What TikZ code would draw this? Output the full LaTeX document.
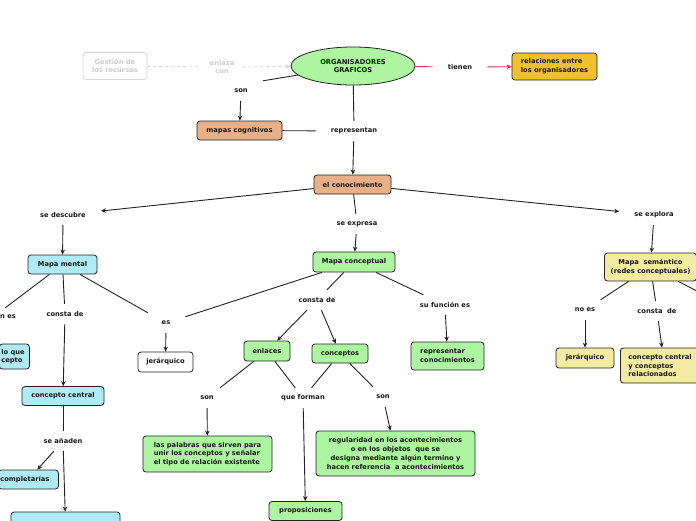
\documentclass[tikz,border=0pt]{standalone}
\usepackage{fontspec}
\setmainfont{DejaVu Sans}
\usetikzlibrary{shapes.geometric,arrows.meta}
\definecolor{cgreen}{HTML}{ADF5A0}
\definecolor{ccyan}{HTML}{B0EBF5}
\definecolor{cpeach}{HTML}{E8B088}
\definecolor{cyel}{HTML}{F3EBA0}
\definecolor{cgold}{HTML}{F0C030}
\definecolor{cred}{HTML}{E0245A}
\definecolor{cline}{HTML}{222222}
\definecolor{cfaint}{HTML}{D6D6D6}
\definecolor{cfainttext}{HTML}{CCCCCC}
\tikzset{
 every node/.style={font=\fontsize{6.7}{8.7}\selectfont\bfseries, text=black!90},
 box/.style={draw=cline, line width=0.8pt, rounded corners=3pt, inner sep=0pt},
 lbl/.style={inner xsep=15pt, inner ysep=0pt, minimum height=20pt},
 conn/.style={draw=cline, line width=0.9pt},
 arr/.style={conn, -{Stealth[length=5pt,width=4.5pt]}},
}
\begin{document}
\begin{tikzpicture}[x=1pt,y=-1pt]
\useasboundingbox (0,0) rectangle (696,520);
% top
\node[box, draw=cfaint, text=cfainttext, fill=white, minimum width=64pt, minimum height=27pt, align=center] (gest) at (115,66) {Gestión de\\los recursos};
\node[lbl, text=cfainttext, align=center, inner xsep=8pt] (enl) at (222,67) {enlaza\\con};
\node[ellipse, draw=cline, line width=0.8pt, fill=cgreen, minimum width=124pt, minimum height=38pt, inner sep=0pt, align=center] (org) at (353,66) {ORGANISADORES\\GRAFICOS};
\node[lbl] (tie) at (460,67) {tienen};
\node[box, fill=cgold, minimum width=85pt, minimum height=27pt, align=left] (rel) at (554.5,66.5) {relaciones entre\\los organisadores};
\node[lbl] (son1) at (241,91) {son};
\node[box, fill=cpeach, minimum width=85pt, minimum height=19pt] (mcog) at (239.5,130.5) {mapas cognitivos};
\node[lbl] (rep) at (354,131) {representan};
\node[box, fill=cpeach, minimum width=77pt, minimum height=19pt] (con) at (352.5,184.5) {el conocimiento};
\node[lbl] (sdes) at (63,215) {se descubre};
\node[lbl] (sexp) at (357,224) {se expresa};
\node[lbl] (sexpl) at (654,215) {se explora};
% left branch
\node[box, fill=ccyan, minimum width=69pt, minimum height=19pt] (mm) at (62.5,264.5) {Mapa mental};
\coordinate (cenes) at (5,308);
\node[anchor=east, inner sep=0pt] (enes) at (16,317) {n es};
\node[lbl] (cd1) at (65,314) {consta de};
\node[box, fill=ccyan, anchor=west, align=left, text width=26pt, inner xsep=2pt, minimum height=25pt] (lq) at (-1,356.5) {lo que\\cepto};
\node[lbl] (es1) at (166,323) {es};
\node[box, fill=white, minimum width=55pt, minimum height=20pt] (jer1) at (165.5,362) {jerárquico};
\node[box, fill=ccyan, minimum width=82pt, minimum height=19pt] (cc) at (63,396) {concepto central};
\node[lbl] (sea) at (63,441) {se añaden};
\node[box, fill=ccyan, anchor=west, align=left, text width=56pt, inner xsep=2pt, minimum height=19pt] (comp) at (-2,479.5) {completarías};
\node[box, fill=ccyan, minimum width=109pt, minimum height=20pt] (bot) at (65.5,522) {};
% middle branch
\node[box, fill=cgreen, minimum width=82pt, minimum height=20pt] (mc) at (354,262) {Mapa conceptual};
\node[lbl] (cd2) at (317,300) {consta de};
\node[lbl] (suf) at (445,305) {su función es};
\node[box, fill=cgreen, minimum width=73pt, minimum height=28pt, align=left] (repc) at (447.5,356) {representar\\conocimientos};
\node[box, fill=cgreen, minimum width=46pt, minimum height=20pt] (enl2) at (267,351) {enlaces};
\node[box, fill=cgreen, minimum width=56pt, minimum height=19pt] (conc) at (340,353.5) {conceptos};
\node[lbl] (son2) at (207,398) {son};
\node[lbl] (qf) at (303,398) {que forman};
\node[lbl] (son3) at (383,397) {son};
\node[box, fill=cgreen, minimum width=129pt, minimum height=36pt, align=left] (pal) at (207.5,454) {las palabras que sirven para\\unir los conceptos y señalar\\el tipo de relación existente};
\node[box, fill=cgreen, minimum width=159pt, minimum height=45pt, align=center] (reg) at (395.5,453.5) {regularidad en los acontecimientos\\o en los objetos~ que se\\designa mediante algún termino y\\hacen referencia~ a acontecimientos};
\node[box, fill=cgreen, minimum width=73pt, minimum height=19pt] (prop) at (305.5,511) {proposiciones};
% right branch
\node[box, fill=cyel, minimum width=92pt, minimum height=28pt, align=center] (ms) at (650.5,267) {Mapa~ semántico\\(redes conceptuales)};
\coordinate (coff) at (720,303);
\node[lbl] (noes) at (585,310) {no es};
\node[lbl] (cd3) at (657,311) {consta~ de};
\node[box, fill=cyel, minimum width=58pt, minimum height=20pt] (jer2) at (585,358) {jerárquico};
\node[box, fill=cyel, anchor=west, align=left, text width=72pt, inner xsep=8pt, minimum height=35pt] (ccr) at (620,365.5) {concepto central\\y conceptos\\relacionados};
% connectors
\draw[conn, draw=cfaint, dashed] (gest) -- (enl);
\draw[arr, draw=cfaint, dashed] (enl) -- (org);
\draw[conn, draw=cred] (org) -- (tie);
\draw[arr, draw=cred] (tie) -- (rel);
\draw[conn] (org) -- (son1.north east);
\draw[arr] (son1) -- (mcog);
\draw[conn] (org) -- (rep);
\draw[conn] (mcog) -- (rep);
\draw[arr] (rep) -- (con);
\draw[arr] (con) -- (sdes);
\draw[conn] (con) -- (sexp);
\draw[arr] (sexp) -- (mc);
\draw[arr] (con) -- (sexpl);
\draw[arr] (sdes) -- (mm);
\draw[conn] (mm) -- (cenes);
\draw[conn] (mm) -- (cd1);
\draw[arr] (cd1) -- (cc);
\draw[conn] (mm) -- (es1);
\draw[arr] (es1) -- (jer1);
\draw[conn] (cc) -- (sea);
\draw[arr] (sea) -- (comp);
\draw[arr] (sea) -- (bot);
\draw[conn] (mc) -- (es1);
\draw[conn] (mc) -- (cd2);
\draw[conn] (mc) -- (suf);
\draw[arr] (suf) -- (repc);
\draw[arr] (cd2) -- (enl2);
\draw[arr] (cd2) -- (conc);
\draw[conn] (enl2) -- (son2);
\draw[conn] (enl2) -- (qf);
\draw[arr] (son2) -- (pal);
\draw[conn] (conc) -- (qf);
\draw[conn] (conc) -- (son3);
\draw[arr] (son3) -- (reg);
\draw[arr] (qf) -- (prop);
\draw[arr] (sexpl) -- (ms);
\draw[conn] (ms) -- (noes);
\draw[conn] (ms) -- (cd3);
\draw[conn] (ms) -- (coff);
\draw[arr] (noes) -- (jer2);
\draw[arr] (cd3) -- (ccr);
\end{tikzpicture}
\end{document}
